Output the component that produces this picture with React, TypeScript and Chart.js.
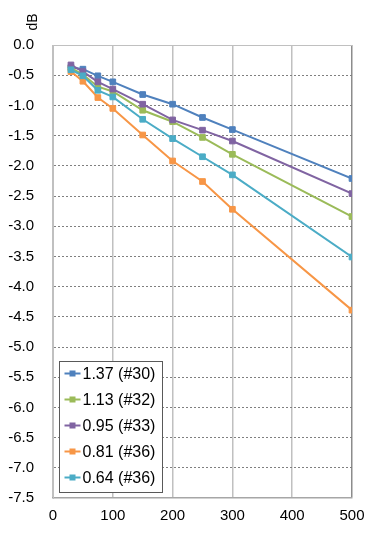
import React, { useEffect, useRef } from "react";
import { Chart, registerables } from "chart.js";

Chart.register(...registerables);

const xValues = [30, 50, 75, 100, 150, 200, 250, 300, 500];
const seriesLabels = ["1.37 (#30)", "1.13 (#32)", "0.95 (#33)", "0.81 (#36)", "0.64 (#36)"];
const s137 = [-0.37, -0.4, -0.51, -0.61, -0.82, -0.98, -1.2, -1.4, -2.21];
const s113 = [-0.38, -0.49, -0.69, -0.77, -1.08, -1.27, -1.53, -1.81, -2.84];
const s095 = [-0.33, -0.44, -0.61, -0.73, -0.98, -1.24, -1.41, -1.59, -2.46];
const s081 = [-0.44, -0.6, -0.87, -1.05, -1.49, -1.92, -2.26, -2.72, -4.39];
const s064 = [-0.41, -0.51, -0.75, -0.86, -1.23, -1.55, -1.85, -2.15, -3.51];
const seriesValues = [s137, s113, s095, s081, s064];
const seriesColors = ["#4F81BD", "#9BBB59", "#8064A2", "#F79646", "#4BACC6"];
const yAxisTitle = "dB";

const FONT = "'Liberation Sans', Arial, sans-serif";

const extrasPlugin = {
  id: "extras",
  afterDraw(chart: any) {
    const { ctx, chartArea } = chart;
    const { left, right, top, bottom } = chartArea;
    ctx.save();
    // top border
    ctx.strokeStyle = "#c0c0c0";
    ctx.lineWidth = 1;
    ctx.beginPath();
    ctx.moveTo(left, top + 0.5);
    ctx.lineTo(right, top + 0.5);
    ctx.stroke();

    // axis title
    ctx.save();
    ctx.translate(left - 20, top - 23);
    ctx.rotate(-Math.PI / 2);
    ctx.fillStyle = "#000";
    ctx.font = `14px ${FONT}`;
    ctx.textAlign = "center";
    ctx.textBaseline = "middle";
    ctx.fillText(yAxisTitle, 0, 0);
    ctx.restore();

    // legend
    const bx = Math.round(left + 6) + 0.5;
    const by = Math.round(bottom - 137) + 0.5;
    const bw = 103;
    const bh = 131;
    ctx.fillStyle = "#fff";
    ctx.fillRect(bx, by, bw, bh);
    ctx.strokeStyle = "#595959";
    ctx.lineWidth = 1;
    ctx.strokeRect(bx, by, bw, bh);
    ctx.font = `16px ${FONT}`;
    ctx.textBaseline = "middle";
    ctx.textAlign = "left";
    seriesLabels.forEach((lab, i) => {
      const yc = by + 12 + 26 * i;
      ctx.strokeStyle = seriesColors[i];
      ctx.lineWidth = 2;
      ctx.beginPath();
      ctx.moveTo(bx + 5, yc);
      ctx.lineTo(bx + 21, yc);
      ctx.stroke();
      ctx.fillStyle = seriesColors[i];
      ctx.fillRect(bx + 10, yc - 3, 6, 6);
      ctx.fillStyle = "#000";
      ctx.fillText(lab, bx + 23, yc + 1);
    });
    ctx.restore();
  },
};

export default function App() {
  const ref = useRef<HTMLCanvasElement>(null);
  useEffect(() => {
    if (!ref.current) return;
    Chart.defaults.font.family = FONT;
    const chart = new Chart(ref.current, {
      type: "line",
      data: {
        datasets: seriesValues.map((vals, i) => ({
          label: seriesLabels[i],
          data: xValues.map((x, j) => ({ x, y: vals[j] })),
          borderColor: seriesColors[i],
          backgroundColor: seriesColors[i],
          pointBackgroundColor: seriesColors[i],
          pointBorderColor: seriesColors[i],
          pointStyle: "rect",
          pointRadius: 4,
          pointBorderWidth: 1,
          borderWidth: 2,
          fill: false,
          tension: 0,
          order: seriesValues.length - i,
        })),
      },
      options: {
        responsive: false,
        animation: false,
        layout: { padding: { top: 45, right: 25, left: 0, bottom: 0 } },
        plugins: { legend: { display: false }, tooltip: { enabled: false } },
        scales: {
          x: {
            type: "linear",
            min: 0,
            max: 500,
            ticks: { stepSize: 100, color: "#000", font: { size: 15 }, padding: 9, maxRotation: 0 },
            grid: {
              color: (c: any) => (c.tick && c.tick.value === 500 ? "#8c8c8c" : "#c0c0c0"),
              lineWidth: 1.5,
              drawTicks: false,
            },
            border: { color: "#a6a6a6", width: 1.5 },
            afterFit: (s: any) => {
              s.height = 36;
            },
          },
          y: {
            type: "linear",
            min: -7.5,
            max: 0,
            ticks: {
              stepSize: 0.5,
              color: "#000",
              font: { size: 15 },
              padding: 19,
              callback: (v: any) => Number(v).toFixed(1),
            },
            grid: {
              color: (c: any) =>
                c.tick && (c.tick.value === 0 || c.tick.value === -7.5) ? "rgba(0,0,0,0)" : "#7f7f7f",
              lineWidth: 1,
              drawTicks: false,
            },
            border: { color: "#c0c0c0", width: 1, dash: [2, 2] },
            afterFit: (s: any) => {
              s.width = 53;
            },
          },
        },
      },
      plugins: [extrasPlugin],
    });
    return () => chart.destroy();
  }, []);
  return (
    <div style={{ position: "fixed", left: 0, top: 0, width: 377, height: 534, background: "#fff" }}>
      <canvas ref={ref} width={377} height={534} style={{ display: "block" }} />
    </div>
  );
}
